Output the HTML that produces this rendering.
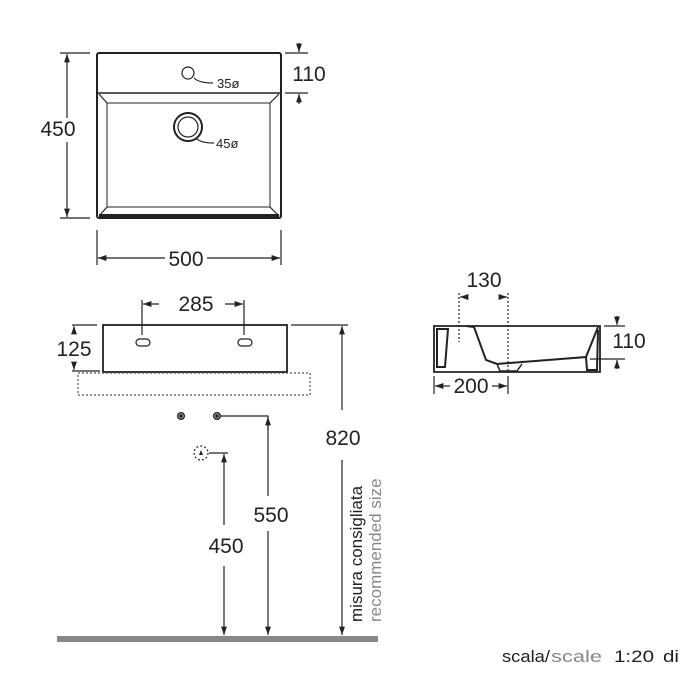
<!DOCTYPE html>
<html><head><meta charset="utf-8"><style>
html,body{margin:0;padding:0;background:#fff;}
svg{display:block;font-family:"Liberation Sans",sans-serif;}
</style></head><body>
<svg width="700" height="700" viewBox="0 0 700 700" xmlns="http://www.w3.org/2000/svg">
<defs>
<marker id="a" viewBox="0 0 10 10" refX="10" refY="5" markerWidth="7" markerHeight="7" orient="auto-start-reverse"><path d="M0,1.5 L10,5 L0,8.5 z" fill="#222"/></marker>
</defs>
<g stroke="#222" fill="none" stroke-width="1.2">
<rect x="97" y="53" width="184" height="165" rx="2" stroke-width="2"/>
<line x1="97" y1="93" x2="281" y2="93" stroke-width="1.5"/>
<rect x="107" y="103" width="163" height="104" stroke-width="1"/>
<line x1="99" y1="94" x2="107" y2="103"/><line x1="279" y1="94" x2="270" y2="103"/>
<line x1="99" y1="216" x2="107" y2="207"/><line x1="279" y1="216" x2="270" y2="207"/>
<rect x="99" y="214" width="180" height="3" fill="#222" stroke="none"/>
<circle cx="188" cy="73" r="6"/>
<path d="M194,78 Q199,83 213,83"/>
<circle cx="188" cy="127" r="14" stroke-width="2"/>
<circle cx="188" cy="127" r="10"/>
<path d="M196,138 Q200,143 214,143"/>
<line x1="60" y1="53" x2="90" y2="53"/><line x1="60" y1="218" x2="90" y2="218"/>
<line x1="67" y1="118" x2="67" y2="54" marker-end="url(#a)"/>
<line x1="67" y1="142" x2="67" y2="217" marker-end="url(#a)"/>
<line x1="285" y1="53" x2="308" y2="53"/><line x1="285" y1="93" x2="308" y2="93"/>
<line x1="299" y1="43" x2="299" y2="52" marker-end="url(#a)"/>
<line x1="299" y1="104" x2="299" y2="94" marker-end="url(#a)"/>
<line x1="97" y1="230" x2="97" y2="265"/><line x1="281" y1="230" x2="281" y2="265"/>
<line x1="165" y1="258" x2="98" y2="258" marker-end="url(#a)"/>
<line x1="207" y1="258" x2="280" y2="258" marker-end="url(#a)"/>
<rect x="103" y="325" width="184" height="47" stroke-width="1.8"/>
<rect x="78" y="373" width="232" height="22" stroke-dasharray="2,2" stroke="#555"/>
<rect x="136" y="339" width="14" height="7" rx="3.5"/>
<rect x="238" y="339" width="14" height="7" rx="3.5"/>
<line x1="142" y1="300" x2="142" y2="335"/><line x1="244" y1="300" x2="244" y2="335"/>
<line x1="159" y1="304" x2="143" y2="304" marker-end="url(#a)"/>
<line x1="225" y1="304" x2="243" y2="304" marker-end="url(#a)"/>
<line x1="72" y1="325" x2="97" y2="325"/><line x1="72" y1="371" x2="100" y2="371"/>
<line x1="74" y1="333" x2="74" y2="326" marker-end="url(#a)"/>
<line x1="74" y1="363" x2="74" y2="370" marker-end="url(#a)"/>
<line x1="291" y1="325" x2="348" y2="325"/>
<line x1="342" y1="410" x2="342" y2="326" marker-end="url(#a)"/>
<line x1="342" y1="460" x2="342" y2="635" marker-end="url(#a)"/>
<circle cx="181" cy="416" r="3.3" stroke-width="1.5"/>
<circle cx="181" cy="416" r="1.3" fill="#222"/>
<circle cx="217" cy="416" r="3.3" stroke-width="1.5"/>
<circle cx="217" cy="416" r="1.3" fill="#222"/>
<polyline points="221,416 268,416 268,496"/>
<line x1="268" y1="430" x2="268" y2="417" marker-end="url(#a)"/>
<line x1="268" y1="531" x2="268" y2="635" marker-end="url(#a)"/>
<circle cx="201" cy="453" r="7" stroke-dasharray="2,2"/>
<path d="M199,455 L201,450 L203,455 Z" fill="#222" stroke="none"/>
<polyline points="209,453 228,453"/>
<line x1="224" y1="525" x2="224" y2="454" marker-end="url(#a)"/>
<line x1="224" y1="566" x2="224" y2="635" marker-end="url(#a)"/>
<path d="M434,326 L600,326 L600,372 L434,372 Z" stroke-width="1.8"/>
<path d="M437,329 L448,329 L445,367 L437,367 Z" fill="none" stroke-width="2"/>
<path d="M466,326 L474,327 L486,360 L497,364 L586,357 L598,327" stroke-width="2"/>
<path d="M497,364 L500,371 L517,371 L522,364" stroke-width="1.5"/>
<path d="M586,357 L587,370 L597,370 L598,330" stroke-width="2"/>
<line x1="459" y1="293" x2="459" y2="342" stroke-dasharray="2,2"/>
<line x1="508" y1="293" x2="508" y2="372" stroke-dasharray="2,2"/>
<line x1="466" y1="297" x2="460" y2="297" marker-end="url(#a)"/>
<line x1="501" y1="297" x2="507" y2="297" marker-end="url(#a)"/>
<line x1="434" y1="376" x2="434" y2="394"/><line x1="508" y1="376" x2="508" y2="394"/>
<line x1="450" y1="386" x2="435" y2="386" marker-end="url(#a)"/>
<line x1="492" y1="386" x2="507" y2="386" marker-end="url(#a)"/>
<line x1="604" y1="326" x2="625" y2="326"/><line x1="590" y1="359" x2="625" y2="359"/>
<line x1="617" y1="316" x2="617" y2="325" marker-end="url(#a)"/>
<line x1="617" y1="369" x2="617" y2="360" marker-end="url(#a)"/>
</g>
<rect x="57" y="636" width="321" height="6" fill="#888"/>
<g fill="#222" font-size="21">
<text x="58" y="136" text-anchor="middle">450</text>
<text x="309" y="81" text-anchor="middle">110</text>
<text x="186" y="266" text-anchor="middle">500</text>
<text x="196" y="311" text-anchor="middle">285</text>
<text x="74" y="356" text-anchor="middle">125</text>
<text x="343" y="445" text-anchor="middle">820</text>
<text x="271" y="522" text-anchor="middle">550</text>
<text x="226" y="553" text-anchor="middle">450</text>
<text x="484" y="287" text-anchor="middle">130</text>
<text x="471" y="393" text-anchor="middle">200</text>
<text x="629" y="348" text-anchor="middle">110</text>
<text x="217" y="88" font-size="13">35ø</text>
<text x="216" y="148" font-size="13">45ø</text>
<text transform="translate(362,622) rotate(-90)" font-size="17">misura consigliata</text>
<text transform="translate(381,622) rotate(-90)" font-size="17" fill="#888">recommended size</text>
<text x="502" y="662" font-size="17" textLength="48" lengthAdjust="spacingAndGlyphs">scala/</text>
<text x="551" y="662" font-size="17" fill="#888" textLength="51" lengthAdjust="spacingAndGlyphs">scale</text>
<text x="614" y="662" font-size="17" textLength="40" lengthAdjust="spacingAndGlyphs">1:20</text>
<text x="663" y="662" font-size="17" textLength="16" lengthAdjust="spacingAndGlyphs">di</text>
</g>
</svg>
</body></html>
